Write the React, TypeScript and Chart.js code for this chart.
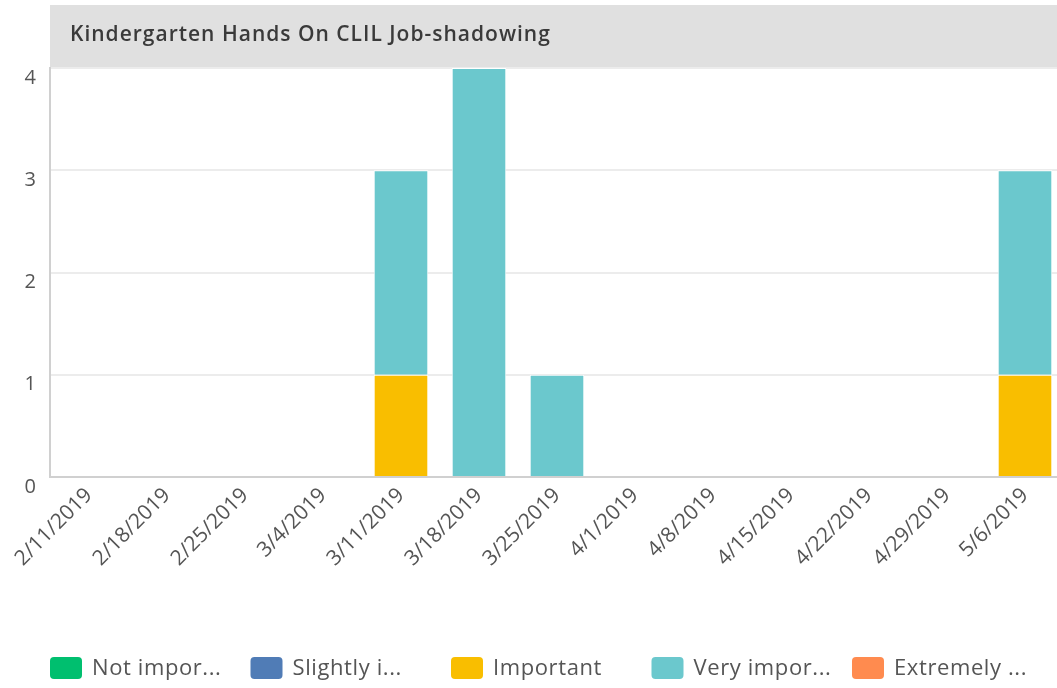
import React, { useEffect, useRef } from "react";
import { Chart, registerables } from "chart.js";

Chart.register(...registerables);

const TITLE = "Kindergarten Hands On CLIL Job-shadowing";
const categories = [
  "2/11/2019", "2/18/2019", "2/25/2019", "3/4/2019", "3/11/2019", "3/18/2019", "3/25/2019",
  "4/1/2019", "4/8/2019", "4/15/2019", "4/22/2019", "4/29/2019", "5/6/2019",
];
const seriesNames = ["Not important", "Slightly important", "Important", "Very important", "Extremely important"];
const legendLabels = ["Not impor...", "Slightly i...", "Important", "Very impor...", "Extremely ..."];
const notImportant = [0, 0, 0, 0, 0, 0, 0, 0, 0, 0, 0, 0, 0];
const slightlyImportant = [0, 0, 0, 0, 0, 0, 0, 0, 0, 0, 0, 0, 0];
const important = [0, 0, 0, 0, 1, 0, 0, 0, 0, 0, 0, 0, 1];
const veryImportant = [0, 0, 0, 0, 2, 4, 1, 0, 0, 0, 0, 0, 2];
const extremelyImportant = [0, 0, 0, 0, 0, 0, 0, 0, 0, 0, 0, 0, 0];
const yTicks = [0, 1, 2, 3, 4];
const colors = ["#00bf6f", "#507cb6", "#f9be00", "#6bc8cd", "#ff8b4f"];

const FONT = "'Open Sans', 'DejaVu Sans', sans-serif";

const titlePlugin = {
  id: "titleBox",
  beforeDraw(chart: any) {
    const ctx = chart.ctx;
    const left = chart.chartArea.left;
    ctx.save();
    ctx.fillStyle = "#e0e0e0";
    ctx.fillRect(left, 5, 1057 - left, chart.chartArea.top - 5);
    ctx.fillStyle = "#3a3a3a";
    ctx.font = `600 21px ${FONT}`;
    (ctx as any).letterSpacing = "1px";
    ctx.textBaseline = "middle";
    ctx.textAlign = "left";
    ctx.fillText(TITLE, left + 20, 35);
    ctx.restore();
  },
};

const legendPlugin = {
  id: "customLegend",
  afterDraw(chart: any) {
    const ctx = chart.ctx;
    ctx.save();
    chart.data.datasets.forEach((ds: any, i: number) => {
      const x = 50 + i * 200.5;
      const y = 657;
      ctx.fillStyle = ds.backgroundColor;
      ctx.beginPath();
      (ctx as any).roundRect(x, y, 32, 22, 4);
      ctx.fill();
      ctx.fillStyle = "#555555";
      ctx.font = `22px ${FONT}`;
      (ctx as any).letterSpacing = "0.6px";
      ctx.textBaseline = "middle";
      ctx.textAlign = "left";
      ctx.fillText(legendLabels[i], x + 42, y + 12);
    });
    ctx.restore();
  },
};

export default function App() {
  const ref = useRef<HTMLCanvasElement>(null);
  useEffect(() => {
    if (!ref.current) return;
    const series = [notImportant, slightlyImportant, important, veryImportant, extremelyImportant];
    const chart = new Chart(ref.current, {
      type: "bar",
      data: {
        labels: categories,
        datasets: series.map((d, i) => ({
          label: seriesNames[i],
          data: d,
          backgroundColor: colors[i],
          borderColor: "#ffffff",
          borderWidth: 1,
          barPercentage: 0.7,
          categoryPercentage: 1,
        })),
      },
      options: {
        responsive: false,
        animation: false,
        layout: { padding: { top: 68, left: 0, right: 0, bottom: 60 } },
        plugins: { legend: { display: false }, title: { display: false }, tooltip: { enabled: false } },
        scales: {
          x: {
            stacked: true,
            grid: { display: false, drawTicks: false },
            border: { display: true, color: "#d0d0d0", width: 2 },
            ticks: {
              autoSkip: false,
              maxRotation: 45,
              minRotation: 45,
              padding: 6,
              color: "#555555",
              font: { family: FONT, size: 21 },
            },
            afterFit: (s: any) => { s.height = 151; },
          },
          y: {
            stacked: true,
            min: 0,
            max: 4,
            afterBuildTicks: (s: any) => { s.ticks = yTicks.map((v) => ({ value: v })); },
            grid: { color: "#ececec", lineWidth: 2, drawTicks: false },
            border: { display: true, color: "#d0d0d0", width: 2 },
            ticks: {
              padding: 14,
              labelOffset: 10,
              color: "#555555",
              font: { family: FONT, size: 20 },
            },
            afterFit: (s: any) => { s.width = 50; },
          },
        },
      },
      plugins: [titlePlugin, legendPlugin],
    });
    return () => chart.destroy();
  }, []);
  return (
    <div style={{ position: "fixed", left: 0, top: 0, width: 1057, height: 688, overflow: "hidden", background: "#fff" }}>
      <canvas ref={ref} width={1064} height={688} style={{ display: "block" }} />
    </div>
  );
}
